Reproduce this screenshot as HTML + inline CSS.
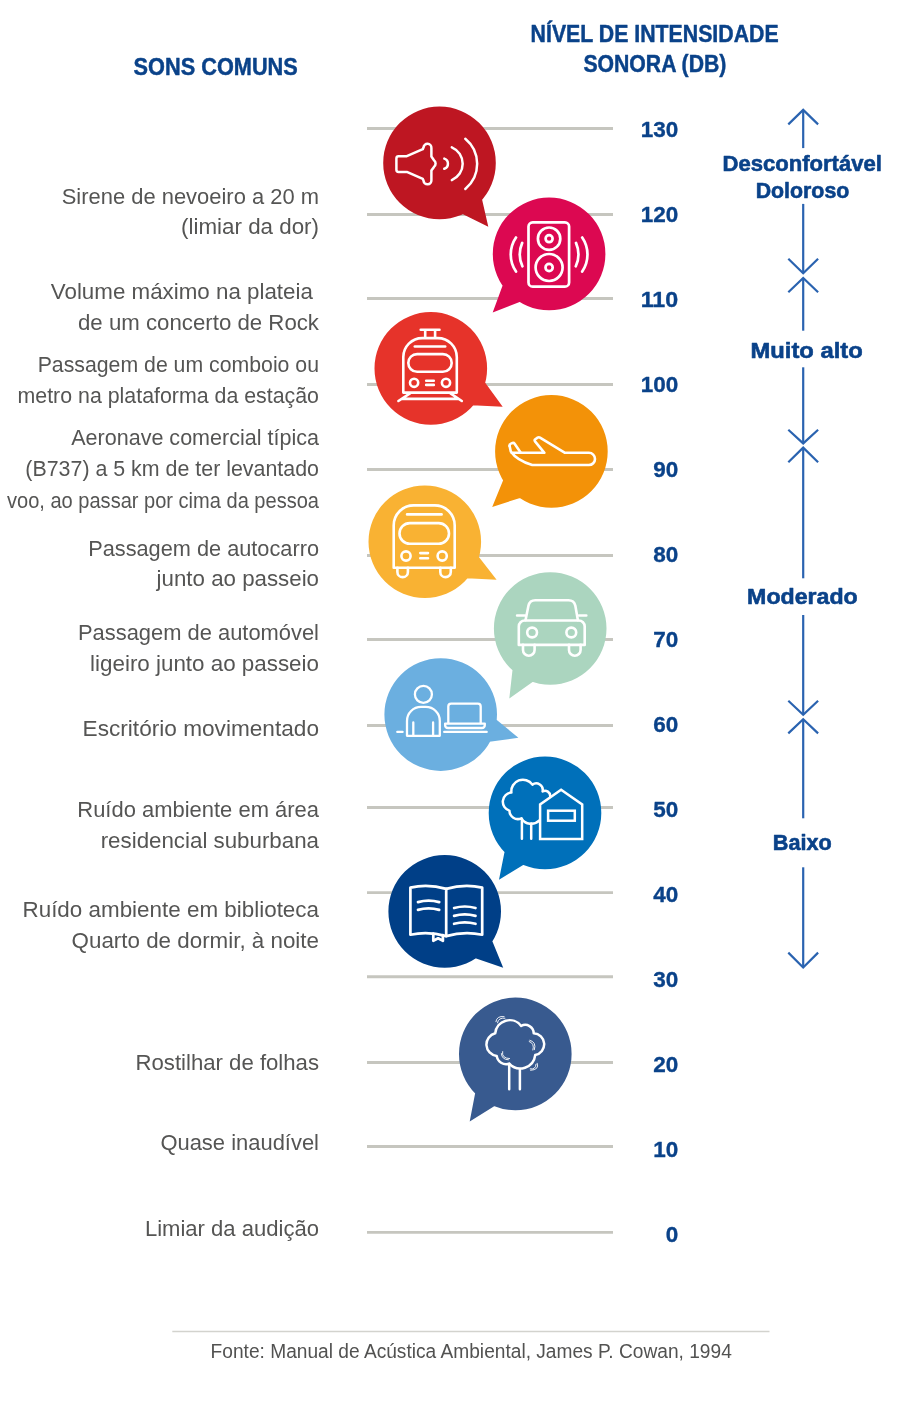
<!DOCTYPE html>
<html lang="pt"><head><meta charset="utf-8"><title>Nível de intensidade sonora</title>
<style>html,body{margin:0;padding:0;background:#fff}svg{display:block}text{font-family:"Liberation Sans",sans-serif}.lb{font-size:22.2px;fill:#555554}.hd{font-size:23px;font-weight:700;fill:#0a4289;stroke:#0a4289;stroke-width:0.45px;stroke-linejoin:round}.nm{font-size:22.4px;font-weight:700;fill:#0a4289;stroke:#0a4289;stroke-width:0.35px;stroke-linejoin:round}.ct{font-size:22.2px;font-weight:700;fill:#0a4289;stroke:#0a4289;stroke-width:0.6px;stroke-linejoin:round}.ft{font-size:20px;fill:#525251}.ic{fill:none;stroke:#fff;stroke-width:2.7;stroke-linecap:round;stroke-linejoin:round}.th{fill:none;stroke:#fff;stroke-width:0.9;stroke-linecap:round}.ar{fill:none;stroke:#2a63b0;stroke-width:2.2;stroke-linecap:butt;stroke-linejoin:miter}</style></head><body>
<svg width="900" height="1424" viewBox="0 0 900 1424">
<rect width="900" height="1424" fill="#fff"/>
<g stroke="#c6c6bf" stroke-width="2.9" stroke-linecap="butt">
<line x1="367" y1="128.5" x2="613" y2="128.5"/>
<line x1="367" y1="214.5" x2="613" y2="214.5"/>
<line x1="367" y1="298.5" x2="613" y2="298.5"/>
<line x1="367" y1="384.5" x2="613" y2="384.5"/>
<line x1="367" y1="469.5" x2="613" y2="469.5"/>
<line x1="367" y1="555.5" x2="613" y2="555.5"/>
<line x1="367" y1="639.5" x2="613" y2="639.5"/>
<line x1="367" y1="725.5" x2="613" y2="725.5"/>
<line x1="367" y1="807.5" x2="613" y2="807.5"/>
<line x1="367" y1="892.6" x2="613" y2="892.6"/>
<line x1="367" y1="976.7" x2="613" y2="976.7"/>
<line x1="367" y1="1062.5" x2="613" y2="1062.5"/>
<line x1="367" y1="1146.5" x2="613" y2="1146.5"/>
<line x1="367" y1="1232.4" x2="613" y2="1232.4"/>
</g>
<text class="hd" x="133.6" y="75" textLength="164.2" lengthAdjust="spacingAndGlyphs">SONS COMUNS</text>
<text class="hd" x="530.6" y="42" textLength="248" lengthAdjust="spacingAndGlyphs">NÍVEL DE INTENSIDADE</text>
<text class="hd" x="583.4" y="72.2" textLength="143" lengthAdjust="spacingAndGlyphs">SONORA (DB)</text>
<text class="lb" x="61.7" y="203.6" textLength="257.3" lengthAdjust="spacingAndGlyphs">Sirene de nevoeiro a 20 m</text>
<text class="lb" x="181.1" y="234.4" textLength="137.9" lengthAdjust="spacingAndGlyphs">(limiar da dor)</text>
<text class="lb" x="50.8" y="299.0" textLength="262.1" lengthAdjust="spacingAndGlyphs">Volume máximo na plateia</text>
<text class="lb" x="78.0" y="329.8" textLength="241.0" lengthAdjust="spacingAndGlyphs">de um concerto de Rock</text>
<text class="lb" x="37.7" y="371.7" textLength="281.3" lengthAdjust="spacingAndGlyphs">Passagem de um comboio ou</text>
<text class="lb" x="17.5" y="402.8" textLength="301.5" lengthAdjust="spacingAndGlyphs">metro na plataforma da estação</text>
<text class="lb" x="71.2" y="445.3" textLength="247.8" lengthAdjust="spacingAndGlyphs">Aeronave comercial típica</text>
<text class="lb" x="25.3" y="476.4" textLength="293.7" lengthAdjust="spacingAndGlyphs">(B737) a 5 km de ter levantado</text>
<text class="lb" x="7.0" y="507.6" textLength="312.0" lengthAdjust="spacingAndGlyphs">voo, ao passar por cima da pessoa</text>
<text class="lb" x="88.2" y="555.5" textLength="230.8" lengthAdjust="spacingAndGlyphs">Passagem de autocarro</text>
<text class="lb" x="156.6" y="586.0" textLength="162.4" lengthAdjust="spacingAndGlyphs">junto ao passeio</text>
<text class="lb" x="78.0" y="639.7" textLength="241.0" lengthAdjust="spacingAndGlyphs">Passagem de automóvel</text>
<text class="lb" x="90.1" y="670.7" textLength="228.9" lengthAdjust="spacingAndGlyphs">ligeiro junto ao passeio</text>
<text class="lb" x="82.6" y="736.0" textLength="236.4" lengthAdjust="spacingAndGlyphs">Escritório movimentado</text>
<text class="lb" x="77.3" y="816.7" textLength="241.7" lengthAdjust="spacingAndGlyphs">Ruído ambiente em área</text>
<text class="lb" x="100.7" y="848.0" textLength="218.3" lengthAdjust="spacingAndGlyphs">residencial suburbana</text>
<text class="lb" x="22.5" y="916.8" textLength="296.5" lengthAdjust="spacingAndGlyphs">Ruído ambiente em biblioteca</text>
<text class="lb" x="71.6" y="947.5" textLength="247.4" lengthAdjust="spacingAndGlyphs">Quarto de dormir, à noite</text>
<text class="lb" x="135.5" y="1069.7" textLength="183.5" lengthAdjust="spacingAndGlyphs">Rostilhar de folhas</text>
<text class="lb" x="160.4" y="1150.2" textLength="158.6" lengthAdjust="spacingAndGlyphs">Quase inaudível</text>
<text class="lb" x="144.9" y="1236.0" textLength="174.1" lengthAdjust="spacingAndGlyphs">Limiar da audição</text>
<text class="nm" x="640.7" y="137.2" textLength="37.5" lengthAdjust="spacingAndGlyphs">130</text>
<text class="nm" x="640.7" y="222.2" textLength="37.5" lengthAdjust="spacingAndGlyphs">120</text>
<text class="nm" x="640.7" y="307.2" textLength="37.5" lengthAdjust="spacingAndGlyphs">110</text>
<text class="nm" x="640.7" y="392.2" textLength="37.5" lengthAdjust="spacingAndGlyphs">100</text>
<text class="nm" x="653.2" y="477.2" textLength="25.0" lengthAdjust="spacingAndGlyphs">90</text>
<text class="nm" x="653.2" y="562.2" textLength="25.0" lengthAdjust="spacingAndGlyphs">80</text>
<text class="nm" x="653.2" y="647.2" textLength="25.0" lengthAdjust="spacingAndGlyphs">70</text>
<text class="nm" x="653.2" y="732.2" textLength="25.0" lengthAdjust="spacingAndGlyphs">60</text>
<text class="nm" x="653.2" y="817.2" textLength="25.0" lengthAdjust="spacingAndGlyphs">50</text>
<text class="nm" x="653.2" y="902.2" textLength="25.0" lengthAdjust="spacingAndGlyphs">40</text>
<text class="nm" x="653.2" y="987.2" textLength="25.0" lengthAdjust="spacingAndGlyphs">30</text>
<text class="nm" x="653.2" y="1072.2" textLength="25.0" lengthAdjust="spacingAndGlyphs">20</text>
<text class="nm" x="653.2" y="1157.2" textLength="25.0" lengthAdjust="spacingAndGlyphs">10</text>
<text class="nm" x="665.7" y="1242.2" textLength="12.5" lengthAdjust="spacingAndGlyphs">0</text>
<polyline class="ar" points="788.3,124.4 803.2,109.9 818.1,124.4"/>
<line class="ar" x1="803.2" y1="110.6" x2="803.2" y2="148.1"/>
<line class="ar" x1="803.2" y1="203.9" x2="803.2" y2="272.6"/>
<polyline class="ar" points="788.3,258.7 803.2,273.2 818.1,258.7"/>
<polyline class="ar" points="788.3,292.3 803.2,278.0 818.1,292.3"/>
<line class="ar" x1="803.2" y1="278.7" x2="803.2" y2="330.7"/>
<line class="ar" x1="803.2" y1="367.3" x2="803.2" y2="442.8"/>
<polyline class="ar" points="788.3,429.8 803.2,443.4 818.1,429.8"/>
<polyline class="ar" points="788.3,462.3 803.2,447.6 818.1,462.3"/>
<line class="ar" x1="803.2" y1="448.3" x2="803.2" y2="578.3"/>
<line class="ar" x1="803.2" y1="615.0" x2="803.2" y2="714.2"/>
<polyline class="ar" points="788.3,700.7 803.2,714.8 818.1,700.7"/>
<polyline class="ar" points="788.3,733.4 803.2,719.2 818.1,733.4"/>
<line class="ar" x1="803.2" y1="719.9" x2="803.2" y2="818.3"/>
<line class="ar" x1="803.2" y1="867.3" x2="803.2" y2="966.9"/>
<polyline class="ar" points="788.3,952.6 803.2,967.5 818.1,952.6"/>
<text class="ct" x="722.5" y="170.8" textLength="159.3" lengthAdjust="spacingAndGlyphs">Desconfortável</text>
<text class="ct" x="755.7" y="197.6" textLength="93.6" lengthAdjust="spacingAndGlyphs">Doloroso</text>
<text class="ct" x="750.5" y="358.4" textLength="112.2" lengthAdjust="spacingAndGlyphs">Muito alto</text>
<text class="ct" x="747.1" y="604.0" textLength="110.6" lengthAdjust="spacingAndGlyphs">Moderado</text>
<text class="ct" x="772.8" y="850.0" textLength="58.9" lengthAdjust="spacingAndGlyphs">Baixo</text>
<line x1="172.3" y1="1331.5" x2="769.5" y2="1331.5" stroke="#d3d3ce" stroke-width="1.3"/>
<text class="ft" x="210.6" y="1358.4" textLength="521.2" lengthAdjust="spacingAndGlyphs">Fonte: Manual de Acústica Ambiental, James P. Cowan, 1994</text>
<g><path fill="#be1622" d="M383.2 162.9 a56.3 56.3 0 1 0 112.6 0 a56.3 56.3 0 1 0 -112.6 0 Z M457.9 211.8 L488.3 226.7 L480.7 193.4 Z"/>
<g class="ic" style="stroke-width:2.5">
<path d="M398.6 156.2 H406.8 L422.8 149.2 L423.5 147.6 A3.95 3.95 0 0 1 431.4 148.0 V156.6 L434.0 160.2 A4.3 4.3 0 0 1 434.0 166.9 L431.4 170.5 V180.2 A3.95 3.95 0 0 1 423.5 180.6 L422.8 178.9 L406.8 171.9 H398.6 Q396.4 171.9 396.4 169.7 V158.4 Q396.4 156.2 398.6 156.2 Z"/>
<path d="M444.3 158.6 A5.4 5.4 0 0 1 444.3 168.8"/>
<path d="M451.8 147.3 A17.8 17.8 0 0 1 451.8 180.1"/>
<path d="M465.3 138.7 A32.6 32.6 0 0 1 465.3 189.0"/>
</g>
</g>
<g><path fill="#dc0851" d="M492.8 253.9 a56.3 56.3 0 1 0 112.6 0 a56.3 56.3 0 1 0 -112.6 0 Z M504.8 279.4 L492.7 312.6 L525.4 299.8 Z"/>
<g class="ic" style="stroke-width:2.7">
<rect x="528.5" y="222.4" width="40.6" height="64.2" rx="4.2"/>
<circle cx="549.1" cy="238.7" r="11.2"/><circle cx="549.1" cy="238.7" r="3.5"/>
<circle cx="549.1" cy="267.5" r="13.5"/><circle cx="549.1" cy="267.5" r="3.6"/>
<path d="M516.0 237.5 A30.2 30.2 0 0 0 516.0 271.6"/>
<path d="M522.2 242.9 A29 29 0 0 0 522.4 266.3"/>
<path d="M582.2 237.5 A30.2 30.2 0 0 1 582.2 271.6"/>
<path d="M576.0 242.9 A29 29 0 0 1 575.8 266.3"/>
</g>
</g>
<g><path fill="#e6332a" d="M374.5 368.4 a56.3 56.3 0 1 0 112.6 0 a56.3 56.3 0 1 0 -112.6 0 Z M467.1 405.1 L502.7 406.8 L481.4 377.6 Z"/>
<g class="ic" style="stroke-width:2.6">
<path d="M420.7 329.8 H439.5 M425.2 329.8 V337.8 M435.1 329.8 V337.8"/>
<path d="M403.3 392.6 V357.1 A19 19 0 0 1 422.3 338.1 H437.8 A19 19 0 0 1 456.8 357.1 V392.6 Z"/>
<path d="M414.8 346.5 H445.2"/>
<rect x="408.3" y="354.1" width="43.4" height="17.7" rx="8.85"/>
<circle cx="414.1" cy="382.8" r="4.1"/><circle cx="446.0" cy="382.8" r="4.1"/>
<path d="M426.2 380.7 H433.8 M426.2 384.9 H433.8"/>
<path d="M410.0 393.4 L398.4 401.0 M450.5 393.4 L461.8 401.0 M402.2 398.9 H458.0"/>
</g>
</g>
<g><path fill="#f39208" d="M495.1 451.4 a56.3 56.3 0 1 0 112.6 0 a56.3 56.3 0 1 0 -112.6 0 Z M505.3 475.1 L492.2 506.9 L525.6 496.2 Z"/>
<g class="ic" style="stroke-width:2.6">
<path d="M509.6 446.0 L510.8 451.5 Q517 460.5 532.2 465 H588.9 A6.1 6.1 0 0 0 588.9 452.8 H565 L540 437.6 Q538.8 436.9 537.6 437.7 L535.3 439.3 Q534.2 440.2 535 441.4 L544.4 452.8 H511.5"/>
<path d="M509.6 446.0 Q509.3 444.2 510.9 443.6 L512.5 443 Q513.8 442.6 514.6 443.8 L520.6 452.6"/>
</g>
</g>
<g><path fill="#f9b233" d="M368.5 541.8 a56.3 56.3 0 1 0 112.6 0 a56.3 56.3 0 1 0 -112.6 0 Z M462.0 578.1 L496.6 579.8 L475.8 553.0 Z"/>
<g class="ic" style="stroke-width:2.6">
<path d="M393.7 567.7 V525.4 A20 20 0 0 1 413.7 505.4 H434.7 A20 20 0 0 1 454.7 525.4 V567.7 Z"/>
<path d="M407.1 514.4 H441.6"/>
<rect x="399.5" y="523.1" width="49.5" height="20.7" rx="10.35"/>
<circle cx="406.0" cy="556.0" r="4.6"/><circle cx="442.2" cy="556.0" r="4.6"/>
<path d="M420.3 553.1 H428.0 M420.3 558.3 H428.0"/>
<path d="M397.4 567.7 V571.9 A5.25 5.25 0 0 0 407.9 571.9 V567.7 M440.3 567.7 V571.9 A5.25 5.25 0 0 0 450.8 571.9 V567.7"/>
</g>
</g>
<g><path fill="#abd5bf" d="M493.9 628.5 a56.3 56.3 0 1 0 112.6 0 a56.3 56.3 0 1 0 -112.6 0 Z M513.0 665.4 L509.3 698.4 L536.8 678.9 Z"/>
<g class="ic" style="stroke-width:2.6">
<path d="M518.8 644.9 V626.5 A6 6 0 0 1 524.8 620.5 H578.7 A6 6 0 0 1 584.7 626.5 V644.9 Z"/>
<path d="M525.5 620.3 L528.5 605.6 Q529.7 600.2 535.3 600.2 H568.4 Q574.0 600.2 575.3 605.6 L577.9 620.3"/>
<path d="M517.1 615.5 H525.0 M579.0 615.5 H586.3"/>
<circle cx="532.1" cy="632.5" r="4.9"/><circle cx="571.3" cy="632.5" r="4.9"/>
<path d="M523.0 644.9 V649.9 A5.8 5.8 0 0 0 534.6 649.9 V644.9 M569.0 644.9 V649.9 A5.8 5.8 0 0 0 580.6 649.9 V644.9"/>
</g>
</g>
<g><path fill="#6bafe0" d="M384.4 714.6 a56.3 56.3 0 1 0 112.6 0 a56.3 56.3 0 1 0 -112.6 0 Z M483.9 742.6 L518.4 737.7 L491.6 715.8 Z"/>
<g class="ic" style="stroke-width:2.3">
<circle cx="423.4" cy="694.4" r="8.5"/>
<path d="M407.0 735.8 V720.9 A14 14 0 0 1 421.0 706.9 H425.8 A14 14 0 0 1 439.8 720.9 V735.8 Z"/>
<path d="M413.3 722.4 V735.8 M433.1 722.4 V735.8"/>
<path d="M397.3 731.9 H402.6 M444.2 731.9 H486.7"/>
<path d="M448.3 723.2 V706.5 Q448.3 703.7 451.1 703.7 H477.9 Q480.7 703.7 480.7 706.5 V723.2"/>
<path d="M445.1 723.6 H484.8 V725.0 Q484.8 728.0 481.8 728.0 H448.1 Q445.1 728.0 445.1 725.0 Z"/>
</g>
</g>
<g><path fill="#0070ba" d="M488.7 812.9 a56.3 56.3 0 1 0 112.6 0 a56.3 56.3 0 1 0 -112.6 0 Z M505.7 845.9 L499.0 879.7 L528.5 861.8 Z"/>
<g class="ic" style="stroke-width:2.5;stroke-linejoin:miter">
<path d="M540.1 839.1 V804.5 L561.1 789.7 L582.2 804.5 V839.1 Z"/>
<rect x="548.1" y="810.7" width="26.7" height="10"/>
<path style="stroke-linejoin:round" d="M550.2 796.4 A5.2 5.2 0 0 0 542.6 791.4 A6.6 6.6 0 0 0 532.4 784.6 A11.6 11.6 0 0 0 511.4 792.6 A9.2 9.2 0 0 0 509.4 810.6 A8.5 8.5 0 0 0 521.4 818.3 A11.5 11.5 0 0 0 539.4 820.4"/>
<path d="M521.9 818.7 V838.7 M531.2 823.4 V838.7"/>
</g>
</g>
<g><path fill="#003f87" d="M388.4 911.4 a56.3 56.3 0 1 0 112.6 0 a56.3 56.3 0 1 0 -112.6 0 Z M470.3 956.5 L503.2 967.7 L490.2 935.9 Z"/>
<g class="ic" style="stroke-width:2.7">
<path d="M410.4 887.6 Q428 883.6 446.2 888.9 V936.1 Q428 930.8 410.4 934.7 Z"/>
<path d="M446.2 888.9 Q464.4 883.6 482.2 887.6 V934.7 Q464.4 930.8 446.2 936.1"/>
<path d="M418.0 902.1 Q428.6 899.1 439.2 902.1 M418.0 909.9 Q428.6 906.9 439.2 909.9"/>
<path d="M454.1 908.0 Q464.8 905.0 475.5 908.0 M454.1 915.9 Q464.8 912.9 475.5 915.9 M454.1 923.8 Q464.8 920.8 475.5 923.8"/>
<path d="M433.3 933.6 V940.8 L438.1 938.3 L442.9 940.8 V935.2"/>
</g>
</g>
<g><path fill="#385a8f" d="M459.0 1053.9 a56.3 56.3 0 1 0 112.6 0 a56.3 56.3 0 1 0 -112.6 0 Z M476.4 1086.7 L469.7 1121.4 L499.4 1103.1 Z"/>
<g class="ic" style="stroke-width:2.5">
<path d="M509.2 1063.7 A9.5 9.5 0 0 1 496.7 1055.9 A11.5 11.5 0 0 1 495.2 1033.3 A14.5 14.5 0 0 1 521.2 1025.9 A8.5 8.5 0 0 1 533.7 1033.3 A11.0 11.0 0 0 1 535.2 1055.1 A15.1 15.1 0 0 1 509.2 1063.7"/>
<path d="M509.2 1063.7 V1089.2 M519.9 1069.6 V1089.2"/>
</g>
<g class="th">
<path d="M495.9 1021.7 Q496.6 1015.6 504.1 1016.6 M497.5 1022.8 Q498.4 1017.3 504.9 1018.2"/>
<path d="M529.8 1040.3 Q536.7 1041.8 534.4 1049.7 M529.2 1041.5 Q534.8 1043.4 532.9 1050.0"/>
<path d="M502.6 1051.6 Q501.3 1058.3 509.6 1058.6 M501.4 1053.6 Q501.7 1059.7 508.4 1059.8"/>
<path d="M537.2 1063.3 Q539.7 1069.8 530.6 1070.3 M536.0 1064.4 Q535.7 1069.8 530.2 1068.9"/>
</g>
</g>
</svg></body></html>
